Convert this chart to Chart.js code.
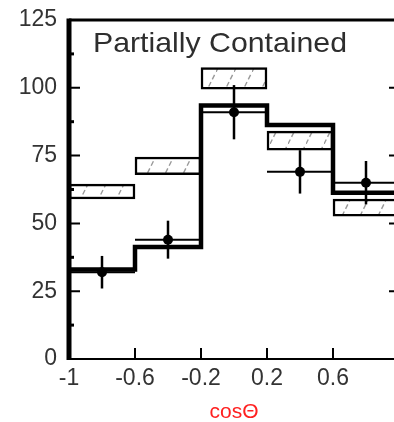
<!DOCTYPE html>
<html>
<head>
<meta charset="utf-8">
<script src="https://cdn.jsdelivr.net/npm/chart.js@4.4.0/dist/chart.umd.min.js"></script>
<style>
  html, body { margin: 0; padding: 0; background: #fff; overflow: hidden; }
  #wrap { width: 404px; height: 422px; }
</style>
</head>
<body>
<div id="wrap"><canvas id="grafico" width="404" height="422"></canvas></div>
<script>
// bins em cos(theta)
const binLow = [-1, -0.6, -0.2, 0.2, 0.6];
const binHigh = [-0.6, -0.2, 0.2, 0.6, 1];
const binCenter = [-0.8, -0.4, 0, 0.4, 0.8];

// pontos de dados e erros
const dataValues = [32, 44, 91, 69, 65];
const dataErrors = [6, 7, 10, 8, 8];

// melhor ajuste (histograma grosso)
const bestFit = [33, 41.3, 93.5, 86.3, 61.3];

// sem oscilacao (caixas hachuradas)
const noOscLow = [59, 68, 99.5, 77, 52.7];
const noOscHigh = [64.5, 74.5, 107.5, 84, 59];

const xTicks = [-1, -0.6, -0.2, 0.2, 0.6];
const xTickLabels = ['-1', '-0.6', '-0.2', '0.2', '0.6'];
const yTicks = [0, 25, 50, 75, 100, 125];
const yTickLabels = ['0', '25', '50', '75', '100', '125'];

const FONT = '"Liberation Sans", Arial, Helvetica, sans-serif';

// padrao de hachura "/"
function criarHachura() {
    const c = document.createElement('canvas');
    c.width = 18;
    c.height = 36;
    const g = c.getContext('2d');
    g.fillStyle = '#fff';
    g.fillRect(0, 0, 18, 36);
    g.strokeStyle = '#9a9a9a';
    g.lineWidth = 1.4;
    g.setLineDash([5, 3]);
    g.beginPath();
    g.moveTo(0, 36);
    g.lineTo(18, 0);
    g.stroke();
    return g.createPattern(c, 'repeat');
}

const ctx = document.getElementById('grafico').getContext('2d');

// linhas de erro dos pontos
const errorBars = {
    id: 'errorBars',
    afterDatasetsDraw(chart) {
        const { ctx, scales: { x, y } } = chart;
        ctx.save();
        ctx.strokeStyle = '#000';
        for (let i = 0; i < dataValues.length; i++) {
            const px = x.getPixelForValue(binCenter[i]);
            const py = y.getPixelForValue(dataValues[i]);
            ctx.lineWidth = 2.5;
            ctx.beginPath();
            ctx.moveTo(px, y.getPixelForValue(dataValues[i] + dataErrors[i]));
            ctx.lineTo(px, y.getPixelForValue(dataValues[i] - dataErrors[i]));
            ctx.stroke();
            ctx.lineWidth = 2;
            ctx.beginPath();
            ctx.moveTo(x.getPixelForValue(binLow[i]), py);
            ctx.lineTo(x.getPixelForValue(binHigh[i]), py);
            ctx.stroke();
        }
        ctx.restore();
    }
};

// moldura, ticks para dentro e texto interno
const frame = {
    id: 'frame',
    afterDraw(chart) {
        const { ctx, chartArea: a, scales: { x, y } } = chart;
        ctx.save();
        ctx.strokeStyle = '#000';

        ctx.lineWidth = 2;
        yTicks.forEach(v => {
            if (v === 0 || v === 125) return;
            const py = y.getPixelForValue(v);
            ctx.beginPath();
            ctx.moveTo(a.left, py); ctx.lineTo(a.left + 11, py);
            ctx.moveTo(a.right, py); ctx.lineTo(a.right - 10, py);
            ctx.stroke();
        });
        ctx.lineWidth = 3;
        for (let i = 0; i < yTicks.length - 1; i++) {
            const py = y.getPixelForValue((yTicks[i] + yTicks[i + 1]) / 2);
            ctx.beginPath();
            ctx.moveTo(a.left, py); ctx.lineTo(a.left + 5, py);
            ctx.stroke();
        }
        ctx.lineWidth = 2;
        xTicks.forEach(v => {
            if (v === -1) return;
            const px = x.getPixelForValue(v);
            ctx.beginPath();
            ctx.moveTo(px, a.bottom); ctx.lineTo(px, a.bottom - 11);
            ctx.stroke();
        });

        // eixos
        ctx.lineWidth = 2;
        ctx.beginPath();
        ctx.moveTo(a.left, a.bottom); ctx.lineTo(a.right, a.bottom);
        ctx.stroke();
        ctx.lineWidth = 3;
        ctx.beginPath();
        ctx.moveTo(a.left, a.top); ctx.lineTo(a.right, a.top);
        ctx.lineTo(a.right, a.bottom);
        ctx.stroke();
        ctx.lineWidth = 5;
        ctx.beginPath();
        ctx.moveTo(a.left, a.top - 1.5); ctx.lineTo(a.left, a.bottom + 1);
        ctx.stroke();

        // texto do painel
        ctx.fillStyle = '#2e2e2e';
        ctx.font = '28px ' + FONT;
        const texto = 'Partially Contained';
        const w = ctx.measureText(texto).width;
        ctx.translate(93, 52);
        ctx.scale(254 / w, 1);
        ctx.textBaseline = 'alphabetic';
        ctx.fillText(texto, 0, 0);
        ctx.restore();
    }
};

new Chart(ctx, {
    data: {
        datasets: [
            {
                type: 'scatter',
                label: 'Data',
                data: binCenter.map((c, i) => ({ x: c, y: dataValues[i] })),
                pointRadius: 5,
                pointHoverRadius: 5,
                pointBackgroundColor: '#000',
                pointBorderWidth: 0,
                order: 0
            },
            {
                type: 'line',
                label: 'Best fit',
                data: bestFit.map((v, i) => ({ x: binLow[i], y: v }))
                    .concat([{ x: binHigh[binHigh.length - 1], y: bestFit[bestFit.length - 1] }]),
                stepped: true,
                borderColor: '#000',
                borderWidth: 4.5,
                pointRadius: 0,
                fill: false,
                order: 1
            },
            {
                type: 'bar',
                label: 'No oscillation',
                data: binCenter.map((c, i) => ({ x: c, y: [noOscLow[i], noOscHigh[i]] })),
                backgroundColor: criarHachura(),
                borderColor: '#000',
                borderWidth: 2.5,
                borderSkipped: false,
                barPercentage: 1,
                categoryPercentage: 1,
                order: 2
            }
        ]
    },
    options: {
        responsive: false,
        animation: false,
        layout: { padding: { top: 20, right: 5, left: 0, bottom: 0 } },
        plugins: {
            legend: { display: false },
            tooltip: { enabled: false }
        },
        scales: {
            x: {
                type: 'linear',
                min: -1,
                max: 1,
                offset: false,
                afterBuildTicks: s => { s.ticks = xTicks.map(v => ({ value: v })); },
                afterFit: s => { s.height = 63; },
                grid: { display: false, drawTicks: false, offset: false },
                border: { display: false },
                ticks: {
                    color: '#333',
                    font: { family: FONT, size: 23 },
                    padding: 6,
                    maxRotation: 0,
                    autoSkip: false,
                    callback: (v, i) => xTickLabels[i]
                },
                title: {
                    display: true,
                    text: 'cosΘ',
                    color: '#ff2020',
                    font: { family: FONT, size: 21 },
                    padding: { top: 0, bottom: -3 }
                }
            },
            y: {
                type: 'linear',
                min: 0,
                max: 125,
                afterBuildTicks: s => { s.ticks = yTicks.map(v => ({ value: v })); },
                afterFit: s => {
                    s.width = 69;
                    s.paddingTop = 0;
                    s.paddingBottom = 0;
                },
                grid: { display: false, drawTicks: false },
                border: { display: false },
                ticks: {
                    color: '#333',
                    font: { family: FONT, size: 23 },
                    padding: 12,
                    callback: (v, i) => yTickLabels[i]
                }
            }
        }
    },
    plugins: [errorBars, frame]
});
</script>
</body>
</html>
